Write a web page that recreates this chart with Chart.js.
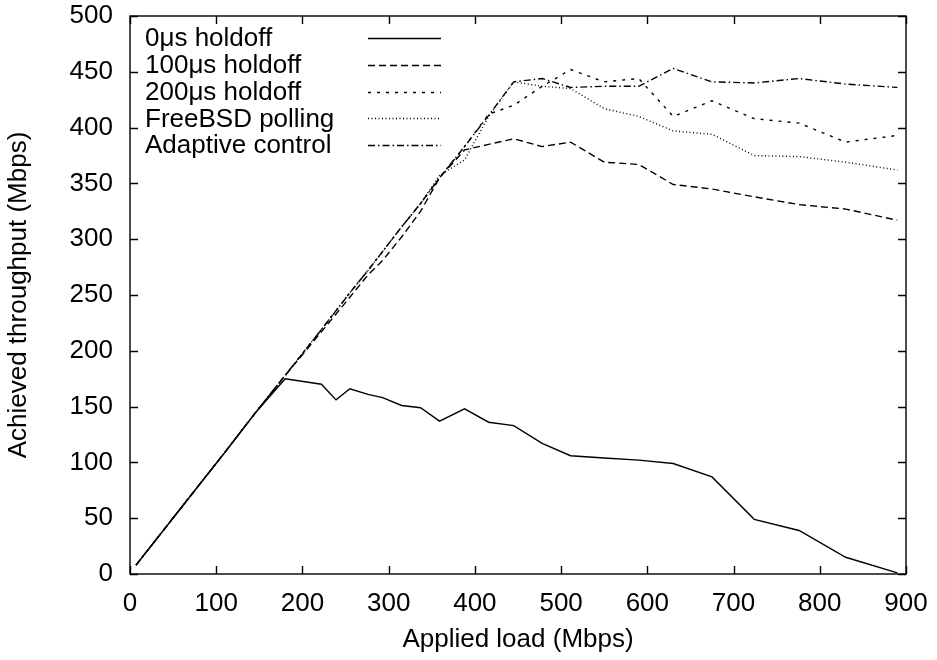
<!DOCTYPE html>
<html>
<head>
<meta charset="utf-8">
<script src="https://cdn.jsdelivr.net/npm/chart.js@4"></script>
<style>
  body { margin: 0; background: #fff; }
  #wrap { width: 937px; height: 660px; }
</style>
</head>
<body>
<div id="wrap"><canvas id="thr" width="937" height="660"></canvas></div>
<script>
// applied load (Mbps), shared by every run
const appliedLoad = [7, 60, 110, 146, 180, 222, 239, 255, 276, 293, 315, 337, 359, 388, 416, 445, 478, 511, 550, 590, 630, 675, 724, 776, 830, 890];

// achieved throughput (Mbps) for each configuration
const holdoff0 = [8, 60, 109, 145, 175, 170, 156, 166, 161, 158, 151, 149, 137, 148, 136, 133, 117, 106, 104, 102, 99, 87, 49, 39, 15, 1];
const holdoff100 = [8, 60, 109, 145, 178, 217, 233, 248, 268, 281, 302, 325, 355, 380, 385, 390, 383, 387, 369, 367, 349, 345, 338, 331, 327, 317];
const holdoff200 = [8, 60, 109, 145, 178, 219, 236, 252, 272, 289, 311, 332, 355, 383, 412, 420, 437, 452, 441, 444, 410, 424, 408, 404, 387, 393];
const freebsdPolling = [8, 60, 109, 145, 178, 219, 236, 252, 272, 289, 311, 332, 357, 371, 410, 441, 437, 435, 417, 410, 397, 394, 375, 374, 369, 362];
const adaptiveCtl = [8, 60, 109, 145, 178, 219, 236, 252, 272, 289, 311, 332, 355, 383, 411, 441, 444, 436, 437, 437, 453, 441, 440, 444, 439, 436];

const seriesNames = ['0\u03bcs holdoff', '100\u03bcs holdoff', '200\u03bcs holdoff', 'FreeBSD polling', 'Adaptive control'];
const xTicks = [0, 100, 200, 300, 400, 500, 600, 700, 800, 900];
const yTicks = [0, 50, 100, 150, 200, 250, 300, 350, 400, 450, 500];

const FONT = '"Liberation Sans", Arial, Helvetica, sans-serif';

function pts(ys) {
    return appliedLoad.map((x, i) => ({ x: x, y: ys[i] }));
}

const dashes = [[], [7, 4], [3, 6], [1, 2.5], [7, 3, 1.5, 3]];
const allSeries = [holdoff0, holdoff100, holdoff200, freebsdPolling, adaptiveCtl];

const datasets = allSeries.map((ys, i) => ({
    label: seriesNames[i],
    data: pts(ys),
    borderColor: '#000',
    borderWidth: 1.4,
    borderDash: dashes[i],
    pointRadius: 0,
    fill: false,
    tension: 0
}));

// gnuplot style box with inward ticks on every side
const framePlugin = {
    id: 'frame',
    afterDatasetsDraw(chart) {
        const ctx = chart.ctx;
        const a = chart.chartArea;
        const xs = chart.scales.x, ys = chart.scales.y;
        const len = 8;
        ctx.save();
        ctx.strokeStyle = '#000';
        ctx.lineWidth = 1.4;
        ctx.setLineDash([]);
        ctx.strokeRect(a.left, a.top, a.right - a.left, a.bottom - a.top);
        ctx.beginPath();
        xTicks.forEach(v => {
            const px = Math.round(xs.getPixelForValue(v)) + 0.5;
            ctx.moveTo(px, a.bottom); ctx.lineTo(px, a.bottom - len);
            ctx.moveTo(px, a.top); ctx.lineTo(px, a.top + len);
        });
        yTicks.forEach(v => {
            const py = Math.round(ys.getPixelForValue(v)) + 0.5;
            ctx.moveTo(a.left, py); ctx.lineTo(a.left + len, py);
            ctx.moveTo(a.right, py); ctx.lineTo(a.right - len, py);
        });
        ctx.stroke();
        ctx.restore();
    }
};

// key in the top left: label first, line sample after it
const keyPlugin = {
    id: 'key',
    afterDraw(chart) {
        const ctx = chart.ctx;
        const tx = 145, lx0 = 368, lx1 = 441, y0 = 38, dy = 26.8;
        ctx.save();
        ctx.font = '26px ' + FONT;
        ctx.fillStyle = '#000';
        ctx.textBaseline = 'middle';
        ctx.textAlign = 'left';
        chart.data.datasets.forEach((ds, i) => {
            const y = y0 + i * dy;
            ctx.fillText(ds.label, tx, y + 1);
            ctx.beginPath();
            ctx.strokeStyle = '#000';
            ctx.lineWidth = ds.borderWidth;
            ctx.setLineDash(ds.borderDash);
            ctx.moveTo(lx0, Math.round(y) + 0.5);
            ctx.lineTo(lx1, Math.round(y) + 0.5);
            ctx.stroke();
        });
        ctx.restore();
    }
};

new Chart(document.getElementById('thr'), {
    type: 'line',
    data: { datasets: datasets },
    options: {
        responsive: false,
        animation: false,
        layout: { padding: { top: 16, right: 31, left: 0, bottom: 0 } },
        plugins: {
            legend: { display: false },
            tooltip: { enabled: false }
        },
        scales: {
            x: {
                type: 'linear',
                min: 0,
                max: 900,
                afterFit(scale) {
                    scale.height = 86;
                    scale.paddingLeft = 0;
                    scale.paddingRight = 0;
                },
                afterBuildTicks(scale) { scale.ticks = xTicks.map(v => ({ value: v })); },
                grid: { display: false, drawTicks: false },
                border: { display: false },
                ticks: { color: '#000', font: { family: FONT, size: 26 }, padding: 14, maxRotation: 0 },
                title: {
                    display: true,
                    text: 'Applied load (Mbps)',
                    color: '#000',
                    font: { family: FONT, size: 26 },
                    padding: { top: 0, bottom: 5 }
                }
            },
            y: {
                type: 'linear',
                min: 0,
                max: 500,
                afterFit(scale) {
                    scale.width = 130;
                    scale.paddingTop = 0;
                    scale.paddingBottom = 0;
                },
                afterBuildTicks(scale) { scale.ticks = yTicks.map(v => ({ value: v })); },
                grid: { display: false, drawTicks: false },
                border: { display: false },
                ticks: { color: '#000', font: { family: FONT, size: 26 }, padding: 17 },
                title: {
                    display: true,
                    text: 'Achieved throughput (Mbps)',
                    color: '#000',
                    font: { family: FONT, size: 26 },
                    padding: { top: 3, bottom: 0 }
                }
            }
        }
    },
    plugins: [framePlugin, keyPlugin]
});
</script>
</body>
</html>
